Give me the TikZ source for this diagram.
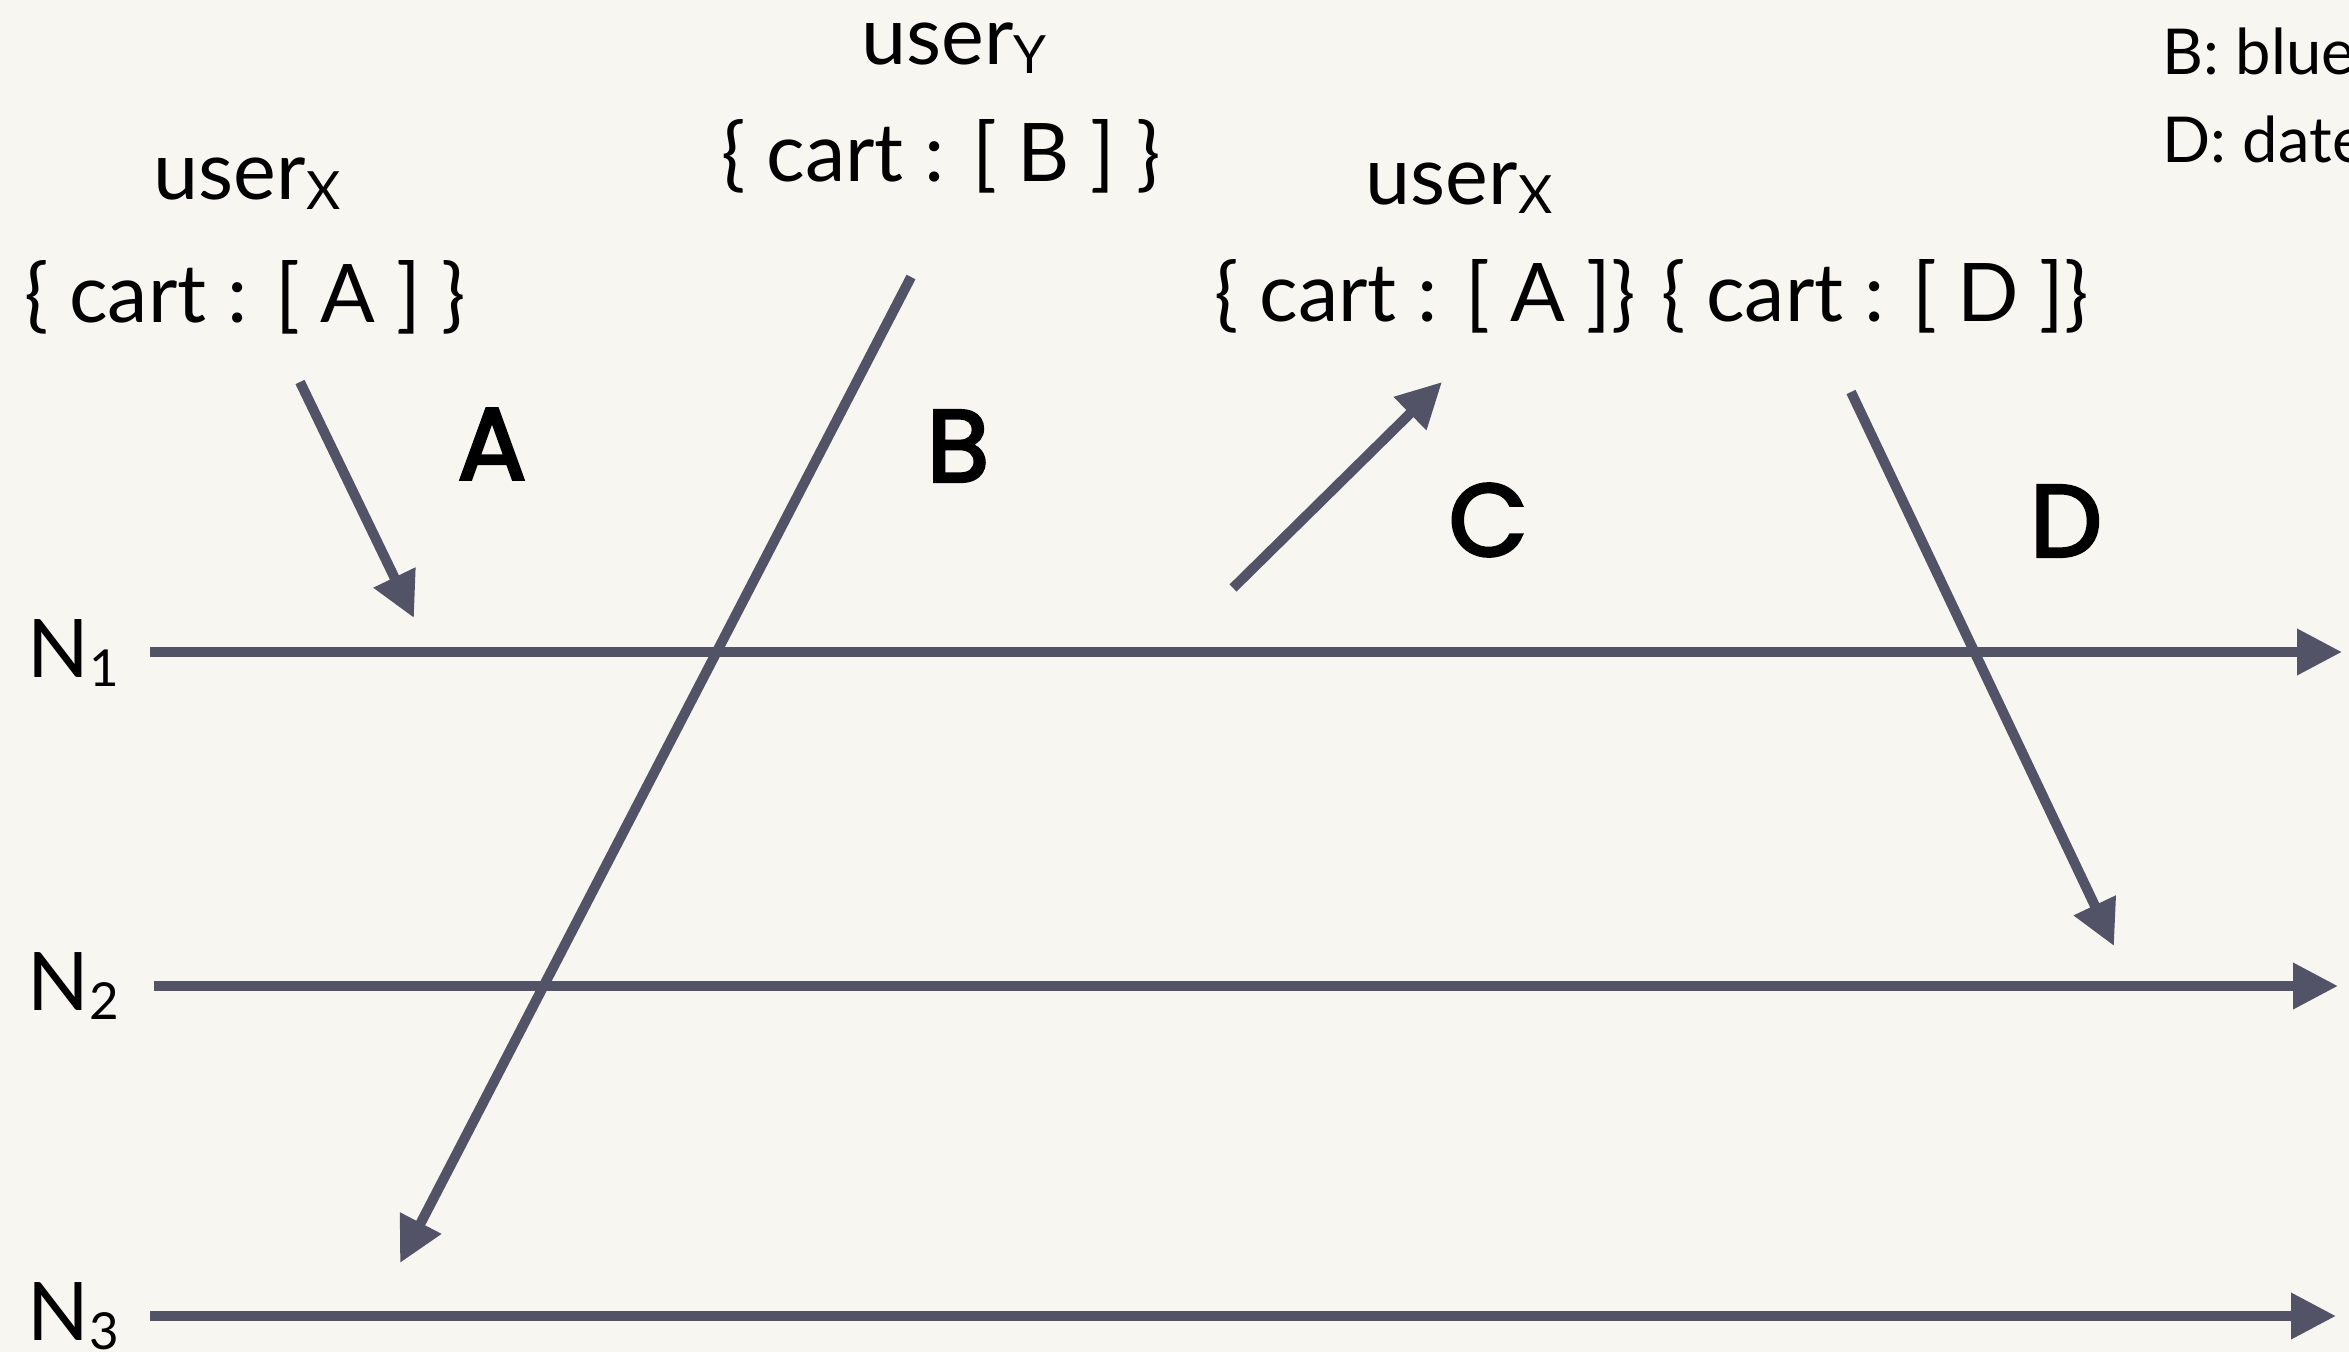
\documentclass[tikz,border=0pt]{standalone}
\usepackage{fontspec}
\setmainfont{Lato}
\newfontfamily\handfont[FakeBold=3]{Poppins}
\usetikzlibrary{arrows.meta}

\definecolor{paperbg}{HTML}{F8F6F1}
\definecolor{flowgray}{HTML}{535368}
\newcommand{\lowsub}[2]{\raisebox{-0.09cm}{\fontsize{#1}{#1}\selectfont #2}}

\begin{document}
\begin{tikzpicture}[x=0.01cm, y=-0.01cm]
\tikzset{
  txt/.style={anchor=base, inner sep=0pt, font=\fontsize{23}{23}\selectfont},
  nlab/.style={anchor=base west, inner sep=0pt, font=\fontsize{23}{23}\selectfont},
  legend/.style={anchor=base west, inner sep=0pt, font=\fontsize{18}{18}\selectfont},
  hand/.style={inner sep=0pt, font=\handfont\fontsize{29}{29}\selectfont},
  flow/.style={draw=flowgray, line width=2.85pt, -{Triangle[length=4.5mm, width=4.4mm]}}
}
\path[use as bounding box, fill=paperbg] (0,0) rectangle (2349,1352);

% Nodes
\node[nlab] (n1) at (27,677) {N\lowsub{14.5}{1}};
\node[nlab] (n2) at (27,1010) {N\lowsub{14.5}{2}};
\node[nlab] (n3) at (27,1340) {N\lowsub{14.5}{3}};

\node[txt] (ux1) at (247,200) {user\lowsub{15}{X}};
\node[txt] (cartA) at (245,323) {\{ cart : [ A ] \}};
\node[txt] (uy) at (954,65) {user\lowsub{15}{Y}};
\node[txt] (cartB) at (941,182) {\{ cart : [ B ] \}};
\node[txt] (ux2) at (1459,205) {user\lowsub{15}{X}};
\node[txt] (cartA2) at (1425,322) {\{ cart : [ A ]\}};
\node[txt] (cartD) at (1875,322) {\{ cart : [ D ]\}};

\node[legend] (legA) at (2162,-13) {A: apple};
\node[legend] (legB) at (2162,75) {B: blueberry};
\node[legend] (legD) at (2162,163) {D: dates};

\node[hand] (hA) at (492,444) {A};
\node[hand] (hB) at (958,446) {B};
\node[hand] (hC) at (1488,520) {C};
\node[hand] (hD) at (2066,521) {D};

% Timelines
\coordinate (n1a) at (150,652);  \coordinate (n1b) at (2342,652);
\coordinate (n2a) at (154,986);  \coordinate (n2b) at (2338,986);
\coordinate (n3a) at (150,1316); \coordinate (n3b) at (2336,1316);
\draw[flow] (n1a) -- (n1b);
\draw[flow] (n2a) -- (n2b);
\draw[flow] (n3a) -- (n3b);

% Writes and replication
\coordinate (a0) at (300,382);  \coordinate (a1) at (414,618);
\coordinate (b0) at (911,277);  \coordinate (b1) at (400,1263);
\coordinate (c0) at (1233,588); \coordinate (c1) at (1442,382);
\coordinate (d0) at (1851,392); \coordinate (d1) at (2114,946);
\draw[flow] (a0) -- (a1);
\draw[flow] (b0) -- (b1);
\draw[flow] (c0) -- (c1);
\draw[flow] (d0) -- (d1);
\end{tikzpicture}
\end{document}
